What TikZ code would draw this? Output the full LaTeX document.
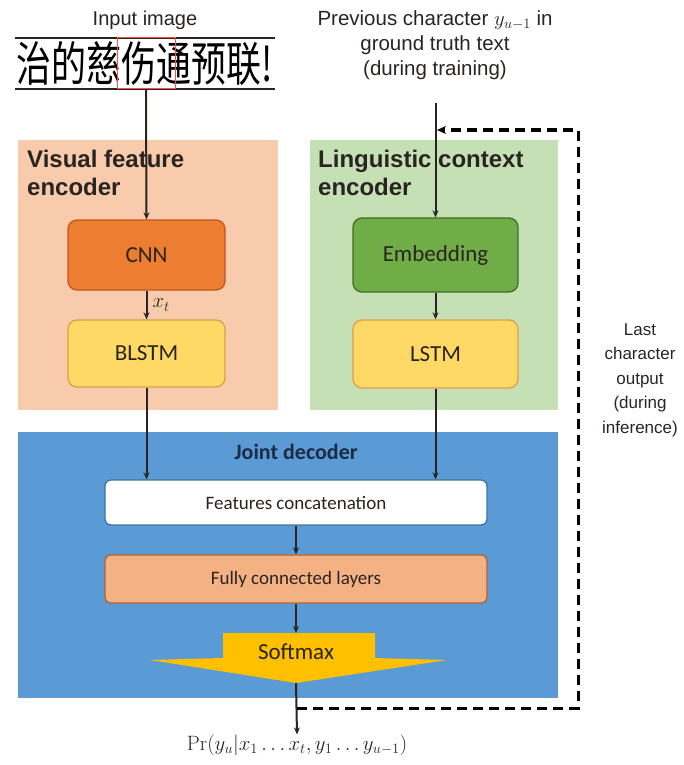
\documentclass[tikz,border=0pt]{standalone}
\usepackage[no-math]{fontspec}
\setmainfont{Liberation Sans}
\newfontfamily\calib{Carlito}
\newfontfamily\cjk{Noto Sans CJK SC}
\usetikzlibrary{arrows.meta}

\definecolor{visbg}{HTML}{F8CBAD}
\definecolor{lingbg}{HTML}{C5E0B4}
\definecolor{jointbg}{HTML}{5B9BD5}
\definecolor{cnnfill}{HTML}{ED7D31}
\definecolor{cnnline}{HTML}{C0581A}
\definecolor{lstmfill}{HTML}{FFD966}
\definecolor{lstmline}{HTML}{D9A24A}
\definecolor{embfill}{HTML}{70AD47}
\definecolor{embline}{HTML}{3F6E25}
\definecolor{fcfill}{HTML}{F4B183}
\definecolor{fcline}{HTML}{B0652E}
\definecolor{catline}{HTML}{41719C}
\definecolor{smxfill}{HTML}{FFC000}
\definecolor{inkdark}{HTML}{2A2420}
\definecolor{navy}{HTML}{1C2B45}

\begin{document}
\begin{tikzpicture}[x=1pt,y=-1pt,
  arr/.style={draw=inkdark, line width=2pt, -{Stealth[length=7pt,width=6pt]}},
  feedback/.style={draw=black, line width=3pt, dash pattern=on 10pt off 6pt,
    -{Stealth[length=9pt,width=8pt]}},
  blk/.style={rectangle, rounded corners=9pt, line width=1.3pt, inner sep=0pt,
    text=inkdark, font=\calib\fontsize{23}{26}\selectfont},
  wideblk/.style={blk, rounded corners=6pt, minimum width=382pt,
    font=\calib\fontsize{19}{22}\selectfont},
  paneltitle/.style={anchor=north west, align=left, inner sep=0pt,
    font=\bfseries\fontsize{24}{28}\selectfont, text=inkdark},
  caption/.style={align=center, inner sep=0pt, text=inkdark,
    font=\fontsize{20.5}{25}\selectfont}]
\useasboundingbox (0,0) rectangle (684,765);

% panels
\fill[visbg] (18,140) rectangle (278,410);
\fill[lingbg] (310,140) rectangle (558,410);
\fill[jointbg] (18,432) rectangle (558,698);

\node[paneltitle] (vistitle) at (27,149.5) {Visual feature\\encoder};
\node[paneltitle] (lingtitle) at (318,149.5) {Linguistic context\\encoder};
\node[inner sep=0pt, text=navy, font=\calib\bfseries\fontsize{22}{26}\selectfont]
  (jointtitle) at (296,452) {Joint decoder};

% input image strip
\node[caption, font=\fontsize{20}{24}\selectfont] (inlabel) at (145,20) {Input image};
\draw[line width=2pt, draw=inkdark] (15,38) -- (275,38);
\draw[line width=2pt, draw=inkdark] (15,89) -- (275,89);
\node[inner sep=0pt] (strip) at (145,64)
  {\resizebox{256pt}{40pt}{\cjk 治的慈伤通预联!}};
\draw[draw=red!70, line width=1pt] (117,38) rectangle (175,89);
\coordinate (imgout) at (146,89);

% encoder blocks
\node[blk, fill=cnnfill, draw=cnnline, minimum width=157pt, minimum height=70pt]
  (cnn) at (146.5,255) {CNN};
\node[blk, fill=lstmfill, draw=lstmline, minimum width=157pt, minimum height=67pt]
  (blstm) at (146.5,353.5) {BLSTM};
\node[blk, fill=embfill, draw=embline, minimum width=165pt, minimum height=74pt]
  (emb) at (435.5,255) {Embedding};
\node[blk, fill=lstmfill, draw=lstmline, minimum width=165pt, minimum height=68pt]
  (lstm) at (435.5,354) {LSTM};

% decoder blocks
\node[wideblk, fill=white, draw=catline, minimum height=45pt]
  (concat) at (296,502.5) {Features concatenation};
\node[wideblk, fill=fcfill, draw=fcline, minimum height=48pt]
  (fc) at (296,579) {Fully connected layers};

% softmax arrow shape
\fill[smxfill] (223,633) -- (375,633) -- (375,658) -- (447,660) -- (296,683)
  -- (150,660) -- (223,658) -- cycle;
\node[inner sep=0pt, text=inkdark, font=\calib\fontsize{23}{26}\selectfont]
  (smx) at (296,652) {Softmax};
\coordinate (smxtop) at (296,633);
\coordinate (smxtip) at (296,683);

% previous character caption
\node[caption] (prev) at (435,45)
  {Previous character $y_{u-1}$ in\\ground truth text\\(during training)};
\coordinate (prevout) at (435.5,103);

% feedback caption
\node[caption, font=\fontsize{17}{24.5}\selectfont] (lastout) at (640,380)
  {Last\\character\\output\\(during\\inference)};

% output
\node[inner sep=0pt, text=inkdark, font=\fontsize{21}{24}\selectfont]
  (prob) at (297,745) {$\mathrm{Pr}(y_u|x_1\ldots x_t, y_1\ldots y_{u-1})$};

% connectors
\draw[arr] (imgout) -- (cnn.north);
\draw[arr] (cnn.south) -- (blstm.north)
  node[midway, right=5pt, inner sep=0pt, text=inkdark, font=\fontsize{22}{24}\selectfont] (xt) {$x_t$};
\draw[arr] (blstm.south) -- (blstm.south |- concat.north);
\draw[arr] (prevout) -- (emb.north);
\draw[arr] (emb.south) -- (lstm.north);
\draw[arr] (lstm.south) -- (lstm.south |- concat.north);
\draw[arr] (concat.south) -- (fc.north);
\draw[arr] (fc.south) -- (smxtop);
\draw[arr] (smxtip) -- (prob.north);

% feedback loop during inference
\coordinate (fbstart) at (297,708);
\coordinate (fbend) at (437,130);
\draw[feedback] (fbstart) -- (578,708) -- (578,130) -- (fbend);
\end{tikzpicture}
\end{document}
